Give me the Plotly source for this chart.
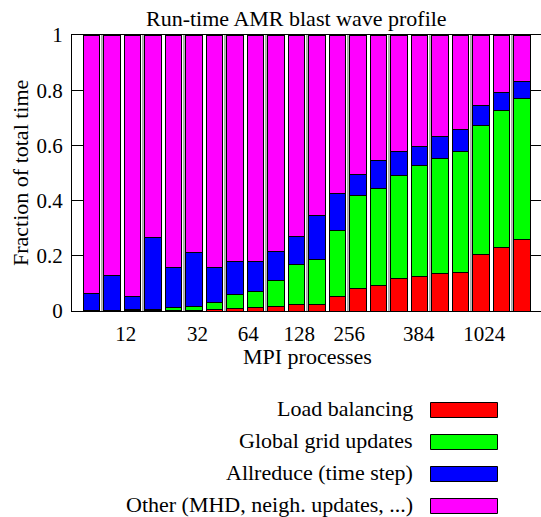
import plotly.graph_objects as go

# Fraction of run time per component, one entry per run (22 runs)
load_balancing = [0.002, 0.001, 0.002, 0.002, 0.002, 0.003, 0.005, 0.010, 0.011, 0.018, 0.024,
                  0.025, 0.052, 0.080, 0.092, 0.116, 0.125, 0.135, 0.138, 0.203, 0.229, 0.260]
global_grid = [0.001, 0.001, 0.003, 0.005, 0.011, 0.014, 0.026, 0.050, 0.060, 0.091, 0.145,
               0.160, 0.239, 0.337, 0.352, 0.374, 0.403, 0.416, 0.440, 0.470, 0.496, 0.510]
allreduce = [0.059, 0.128, 0.048, 0.259, 0.143, 0.196, 0.127, 0.118, 0.107, 0.106, 0.101,
             0.162, 0.134, 0.078, 0.103, 0.088, 0.067, 0.082, 0.080, 0.073, 0.068, 0.060]
other = [0.938, 0.870, 0.947, 0.734, 0.844, 0.787, 0.842, 0.822, 0.822, 0.785, 0.730,
         0.653, 0.575, 0.505, 0.453, 0.422, 0.405, 0.367, 0.342, 0.254, 0.207, 0.170]

series_names = ["Load balancing", "Global grid updates", "Allreduce (time step)",
                "Other (MHD, neigh. updates, ...)"]
series_values = [load_balancing, global_grid, allreduce, other]
series_colors = ["#ff0000", "#00ff00", "#0000ff", "#ff00ff"]

# x tick labels and where they sit along the run index axis
tick_labels = ["12", "32", "64", "128", "256", "384", "1024"]
tick_positions = [1.66, 5.16, 7.64, 10.12, 12.56, 15.95, 19.15]

n_runs = len(other)
runs = list(range(n_runs))

W, H = 541, 517
ML, MR, MT, MB = 72, 0, 35, 206
PW, PH = W - ML - MR, H - MT - MB
FONT = "Liberation Serif"


def px(xp):
    return (xp - ML) / PW


def py(yp):
    return (MT + PH - yp) / PH


fig = go.Figure()
for name, vals, col in zip(series_names, series_values, series_colors):
    fig.add_trace(go.Bar(
        x=runs, y=vals, name=name, width=0.8,
        marker=dict(color=col, line=dict(color="black", width=1)),
        showlegend=False,
    ))

# thin grey separators between pairs of bars
shapes = []
for k in range(0, n_runs - 1, 2):
    shapes.append(dict(type="line", xref="x", yref="y", x0=k + 0.5, x1=k + 0.5,
                       y0=0, y1=1, line=dict(color="#999999", width=1.5), layer="below"))

# legend drawn as labels with swatches to their right
annotations = []
row_y = [410, 442, 474, 506]
for name, col, yc in zip(series_names, series_colors, row_y):
    annotations.append(dict(text=name, xref="paper", yref="paper", x=px(415), y=py(yc - 2),
                            xanchor="right", yanchor="middle", showarrow=False,
                            font=dict(family=FONT, size=22, color="black")))
    shapes.append(dict(type="rect", xref="paper", yref="paper",
                       x0=px(430.5), x1=px(497.5), y0=py(yc - 7.5), y1=py(yc + 7.5),
                       fillcolor=col, line=dict(color="black", width=1)))

annotations.append(dict(text="Run-time AMR blast wave profile", xref="paper", yref="paper",
                        x=px(296), y=py(19), xanchor="center", yanchor="middle",
                        showarrow=False, font=dict(family=FONT, size=22, color="black")))
annotations.append(dict(text="MPI processes", xref="paper", yref="paper",
                        x=px(307), y=py(356), xanchor="center", yanchor="middle",
                        showarrow=False, font=dict(family=FONT, size=22, color="black")))
annotations.append(dict(text="Fraction of total time", xref="paper", yref="paper",
                        x=px(20), y=py(173), xanchor="center", yanchor="middle", textangle=-90,
                        showarrow=False, font=dict(family=FONT, size=22, color="black")))

fig.update_layout(
    width=W, height=H,
    margin=dict(l=ML, r=MR, t=MT, b=MB, pad=0),
    barmode="stack", bargap=0.2,
    paper_bgcolor="white", plot_bgcolor="white",
    shapes=shapes, annotations=annotations,
    font=dict(family=FONT, size=21, color="black"),
)
fig.update_xaxes(
    range=[-0.96, -0.96 + PW / 20.5],
    tickmode="array", tickvals=tick_positions, ticktext=tick_labels,
    ticks="", showgrid=False, zeroline=False,
    showline=True, linecolor="black", linewidth=1, mirror=True,
    tickfont=dict(family=FONT, size=21), ticklabelstandoff=4,
)
fig.update_yaxes(
    range=[0, 1], tickmode="array", tickvals=[0, 0.2, 0.4, 0.6, 0.8, 1],
    ticktext=["0", "0.2", "0.4", "0.6", "0.8", "1"],
    ticks="inside", ticklen=11, tickcolor="black", tickwidth=1,
    showgrid=False, zeroline=False,
    showline=True, linecolor="black", linewidth=1, mirror="ticks",
    tickfont=dict(family=FONT, size=21), ticklabelstandoff=4,
)

fig.write_html("out.html")
